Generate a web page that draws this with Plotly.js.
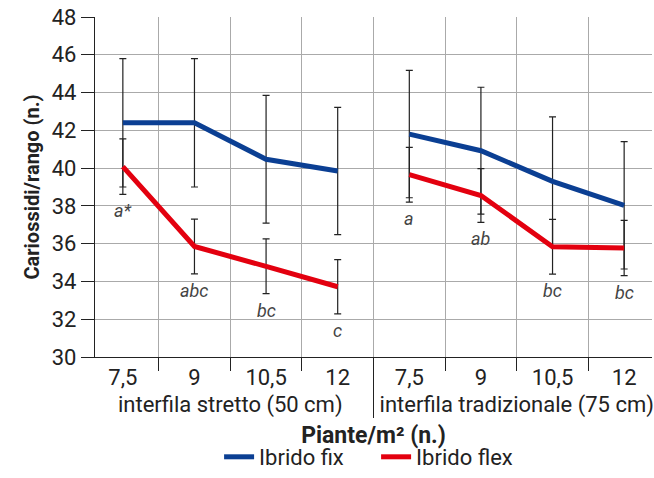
<!DOCTYPE html>
<html>
<head>
<meta charset="utf-8">
<script src="https://cdn.plot.ly/plotly-3.0.1.min.js"></script>
<style>html,body{margin:0;padding:0;background:#fff;}#chart{width:654px;height:478px;}</style>
</head>
<body>
<div id="chart"></div>
<script>
// ---- data ----
const densities = ['7,5', '9', '10,5', '12'];
const groups = ['interfila stretto (50 cm)', 'interfila tradizionale (75 cm)'];
const fixStretto = [42.4, 42.4, 40.47, 39.85];
const fixTrad = [41.8, 40.92, 39.3, 38.03];
const flexStretto = [40.08, 35.85, 34.8, 33.72];
const flexTrad = [39.65, 38.55, 35.84, 35.77];
const fixErrStretto = [3.4, 3.4, 3.38, 3.37];
const fixErrTrad = [3.37, 3.36, 3.41, 3.37];
const flexErrStretto = [1.47, 1.45, 1.45, 1.44];
const flexErrTrad = [1.45, 1.42, 1.45, 1.46];
const lettersStretto = ['a*', 'abc', 'bc', 'c'];
const lettersTrad = ['a', 'ab', 'bc', 'bc'];
const seriesNames = ['Ibrido fix', 'Ibrido flex'];

const FONT = 'Roboto, "Liberation Sans", sans-serif';
const BLUE = '#0b3f93';
const RED = '#e3000f';

function xFor(g) { return [densities.map(() => groups[g]), densities.slice()]; }

function lineTrace(name, y, err, color, g) {
  return {
    type: 'scatter', mode: 'lines', name: name,
    x: xFor(g), y: y,
    line: {color: color, width: 5},
    error_y: {type: 'data', array: err, visible: true, color: '#222', thickness: 1.2, width: 3.5},
    legendgroup: name, showlegend: g === 0
  };
}

const data = [
  lineTrace(seriesNames[0], fixStretto, fixErrStretto, BLUE, 0),
  lineTrace(seriesNames[0], fixTrad, fixErrTrad, BLUE, 1),
  lineTrace(seriesNames[1], flexStretto, flexErrStretto, RED, 0),
  lineTrace(seriesNames[1], flexTrad, flexErrTrad, RED, 1)
];

const annotations = [];
[[flexStretto, flexErrStretto, lettersStretto], [flexTrad, flexErrTrad, lettersTrad]].forEach((set, g) => {
  set[0].forEach((v, i) => {
    annotations.push({
      x: g * densities.length + i, y: v - set[1][i], xref: 'x', yref: 'y',
      text: set[2][i], showarrow: false, yanchor: 'top', yshift: -4,
      font: {family: FONT, size: 18, color: '#444', style: 'italic'}
    });
  });
});

const layout = {
  width: 654, height: 478,
  margin: {l: 95, r: 2, t: 17, b: 121, autoexpand: false},
  paper_bgcolor: '#fff', plot_bgcolor: '#fff',
  font: {family: FONT, size: 21, color: '#222'},
  showlegend: true,
  legend: {orientation: 'h', x: 0.335, xref: 'container', xanchor: 'left',
           y: 0.0, yref: 'container', yanchor: 'bottom',
           entrywidth: 112, entrywidthmode: 'pixels',
           font: {family: FONT, size: 22, color: '#222'}, tracegroupgap: 0},
  xaxis: {
    type: 'multicategory',
    showline: true, linecolor: '#222', linewidth: 1.2,
    ticks: 'outside', ticklen: 13, tickcolor: '#222',
    tickson: 'boundaries',
    showgrid: true, gridcolor: '#aaa', gridwidth: 1,
    showdividers: true, dividercolor: '#222', dividerwidth: 1,
    tickfont: {family: FONT, size: 22, color: '#222'},
    title: {text: '<b>Piante/m² (n.)</b>', font: {family: FONT, size: 23, color: '#222'}, standoff: 10},
    automargin: false
  },
  yaxis: {
    range: [30, 48], dtick: 2,
    showline: true, linecolor: '#222', linewidth: 1.2,
    ticks: 'outside', ticklen: 13, tickcolor: '#222',
    showgrid: true, gridcolor: '#aaa', gridwidth: 1,
    zeroline: false,
    tickfont: {family: FONT, size: 22, color: '#222'},
    title: {text: '<b>Cariossidi/rango (n.)</b>', font: {family: FONT, size: 20, color: '#222'}, standoff: 6},
    automargin: false
  },
  annotations: annotations
};

Plotly.newPlot('chart', data, layout, {displayModeBar: false, staticPlot: true});
</script>
</body>
</html>
